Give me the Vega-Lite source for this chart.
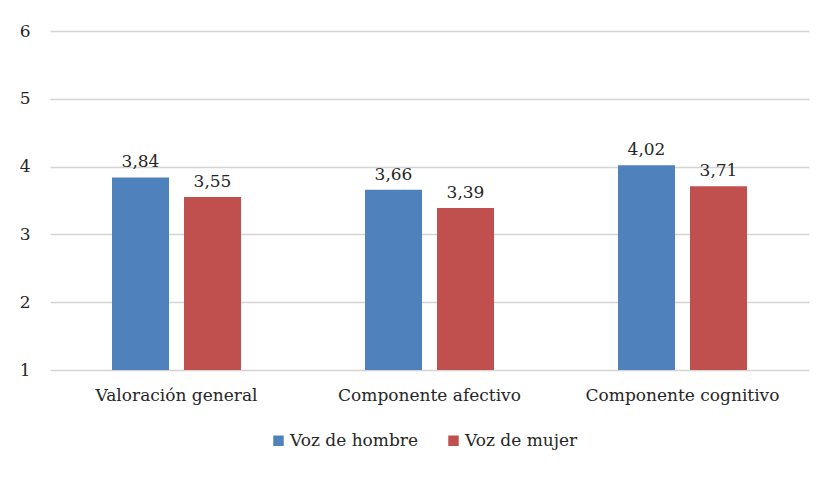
{
  "$schema": "https://vega.github.io/schema/vega-lite/v6.json",
  "width": 759,
  "height": 339,
  "autosize": {"type": "none"},
  "padding": {"left": 50, "top": 31, "right": 22, "bottom": 108},
  "background": "white",
  "config": {
    "view": {"stroke": null},
    "font": "DejaVu Serif",
    "locale": {"number": {"decimal": ",", "thousands": ".", "grouping": [3], "currency": ["", " €"]}},
    "axis": {"labelFont": "DejaVu Serif", "labelFontSize": 17, "labelColor": "#262626", "labelLimit": 400}
  },
  "data": {
    "values": [
      {"componente": "Valoración general", "voz": "Voz de hombre", "valor": 3.84},
      {"componente": "Valoración general", "voz": "Voz de mujer", "valor": 3.55},
      {"componente": "Componente afectivo", "voz": "Voz de hombre", "valor": 3.66},
      {"componente": "Componente afectivo", "voz": "Voz de mujer", "valor": 3.39},
      {"componente": "Componente cognitivo", "voz": "Voz de hombre", "valor": 4.02},
      {"componente": "Componente cognitivo", "voz": "Voz de mujer", "valor": 3.71}
    ]
  },
  "encoding": {
    "x": {
      "field": "componente", "type": "nominal",
      "sort": ["Valoración general", "Componente afectivo", "Componente cognitivo"],
      "scale": {"paddingInner": 0, "paddingOuter": 0},
      "axis": {"title": null, "labelAngle": 0, "domain": false, "ticks": false, "labelPadding": 17}
    },
    "xOffset": {
      "field": "voz", "type": "nominal",
      "sort": ["Voz de hombre", "Voz de mujer"],
      "scale": {"paddingInner": 0.208, "paddingOuter": 0.861}
    },
    "y": {
      "field": "valor", "type": "quantitative",
      "scale": {"domain": [1, 6], "nice": false, "zero": false},
      "axis": {"title": null, "values": [1, 2, 3, 4, 5, 6], "domain": false, "ticks": false,
               "labelPadding": 20, "gridColor": "#d4d4d4", "gridWidth": 1.5}
    }
  },
  "layer": [
    {
      "mark": {"type": "bar"},
      "encoding": {
        "y2": {"datum": 1},
        "color": {
          "field": "voz", "type": "nominal",
          "sort": ["Voz de hombre", "Voz de mujer"],
          "scale": {"range": ["#4F81BD", "#C0504D"]},
          "legend": {
            "title": null, "orient": "none", "legendX": 220, "legendY": 401, "direction": "horizontal",
            "padding": 0,
            "symbolType": "square", "symbolSize": 110, "symbolStrokeWidth": 0,
            "labelFont": "DejaVu Serif", "labelFontSize": 17, "labelColor": "#262626", "labelLimit": 300,
            "columnPadding": 26, "labelOffset": 3
          }
        }
      }
    },
    {
      "mark": {"type": "text", "baseline": "bottom", "dy": -6, "fontSize": 17, "font": "DejaVu Serif", "color": "#262626"},
      "encoding": {
        "text": {"field": "valor", "type": "quantitative", "format": ".2f"}
      }
    }
  ]
}
